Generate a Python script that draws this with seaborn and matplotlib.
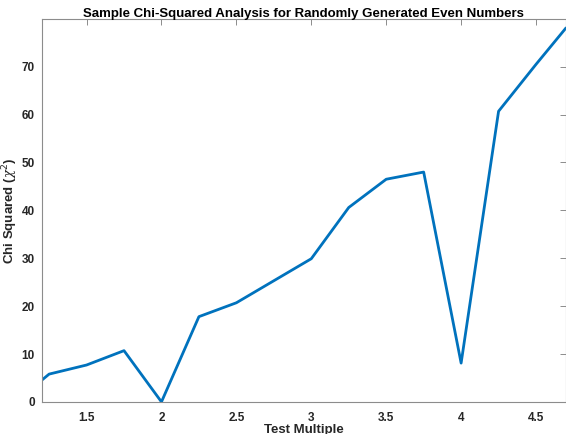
import matplotlib
matplotlib.use("Agg")
import matplotlib.pyplot as plt
import seaborn as sns
import pandas as pd

# Test multiples and the chi-squared statistic at each
multiples = [1.2, 1.25, 1.5, 1.75, 2.0, 2.25, 2.5, 2.75, 3.0, 3.25, 3.5, 3.75, 4.0, 4.25, 4.5, 4.7]
chi_sq = [4.5, 5.8, 7.7, 10.7, 0.0, 17.8, 20.7, 25.3, 29.9, 40.6, 46.5, 48.0, 8.1, 60.7, 70.5, 78.1]

x_ticks = [1.5, 2, 2.5, 3, 3.5, 4, 4.5]
x_tick_labels = ["1.5", "2", "2.5", "3", "3.5", "4", "4.5"]
y_ticks = [0, 10, 20, 30, 40, 50, 60, 70]

df = pd.DataFrame({"multiple": multiples, "chi": chi_sq})

sns.set_style("white")
plt.rcParams["font.family"] = ["Liberation Sans", "DejaVu Sans"]
plt.rcParams["mathtext.fontset"] = "custom"
plt.rcParams["mathtext.it"] = "DejaVu Serif:italic"

fig = plt.figure(figsize=(5.66, 4.34), dpi=100)
ax = fig.add_axes([0.0735, 0.074, 0.9265, 0.8815])

sns.lineplot(data=df, x="multiple", y="chi", ax=ax, color="#0072BD",
             linewidth=2.0, sort=False, clip_on=True)

ax.set_xlim(1.2, 4.7)
ax.set_ylim(0, 79.9)
ax.set_xticks(x_ticks)
ax.set_xticklabels(x_tick_labels)
ax.set_yticks(y_ticks)

ax.tick_params(axis="both", direction="in", length=4, width=0.7, color="#8c8c8c",
               labelsize=8.5, labelcolor="#262626", top=True, right=True)
ax.tick_params(axis="y", pad=5)
ax.tick_params(axis="x", pad=7)
for lbl in ax.get_xticklabels() + ax.get_yticklabels():
    lbl.set_fontweight("bold")
for sp in ax.spines.values():
    sp.set_color("#8c8c8c")
    sp.set_linewidth(0.8)

ax.set_xlabel("Test Multiple", fontsize=9.5, fontweight="bold", color="#262626")
ax.set_ylabel(r"Chi Squared ($\chi^2$)", fontsize=9.5, fontweight="bold", color="#262626")
ax.xaxis.set_label_coords(0.5, -0.058)
ax.yaxis.set_label_coords(-0.041, 0.5)
ax.set_title("Sample Chi-Squared Analysis for Randomly Generated Even Numbers",
             fontsize=9.5, fontweight="bold", color="black", pad=2)

fig.savefig("out.png", dpi=100)
